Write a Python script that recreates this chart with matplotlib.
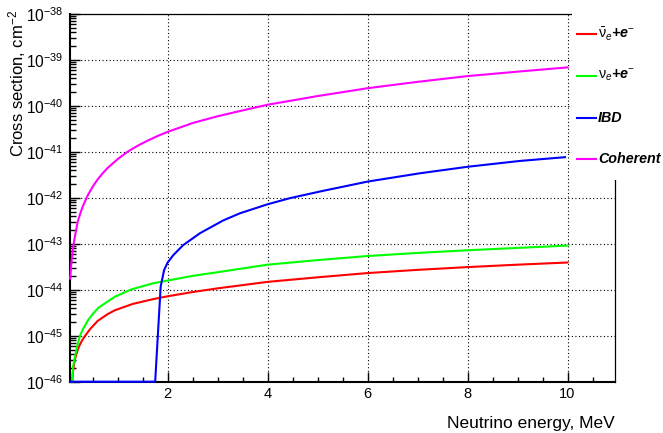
import numpy as np
import matplotlib
matplotlib.use("Agg")
import matplotlib.pyplot as plt
from matplotlib.ticker import LogLocator, MultipleLocator, FixedLocator, NullFormatter, FuncFormatter
from matplotlib.lines import Line2D
from matplotlib.patches import Rectangle

plt.rcParams['font.family'] = ['Liberation Sans', 'DejaVu Sans']
plt.rcParams['mathtext.fontset'] = 'custom'
plt.rcParams['mathtext.rm'] = 'Liberation Sans'
plt.rcParams['mathtext.it'] = 'Liberation Sans:italic'
plt.rcParams['mathtext.bf'] = 'Liberation Sans:bold'

# ---- data ----
coh_E = [0.05, 0.06, 0.07, 0.08, 0.1, 0.12, 0.15, 0.2, 0.25, 0.3, 0.4, 0.5, 0.6, 0.7, 0.8,
         1.0, 1.2, 1.4, 1.6, 1.8, 2.0, 2.5, 3.0, 3.5, 4.0, 5.0, 6.0, 7.0, 8.0, 9.0, 10.0]
coh_xs = [1.74e-44, 2.5e-44, 3.4e-44, 4.5e-44, 6.9e-44, 1.0e-43, 1.55e-43, 3.0e-43,
          4.5e-43, 6.4e-43, 1.12e-42, 1.74e-42, 2.5e-42, 3.4e-42, 4.45e-42,
          6.9e-42, 1.0e-41, 1.35e-41, 1.74e-41, 2.2e-41, 2.7e-41, 4.2e-41, 5.9e-41,
          7.9e-41, 1.05e-40, 1.62e-40, 2.4e-40, 3.3e-40, 4.4e-40, 5.5e-40, 6.8e-40]

anue_E = [0.09, 0.10, 0.11, 0.13, 0.15, 0.18, 0.22, 0.25, 0.3, 0.35, 0.45, 0.6, 0.8, 0.95,
          1.3, 1.7, 2.0, 2.5, 3.0, 4.0, 5.0, 6.0, 7.0, 8.0, 9.0, 10.0]
anue_xs = [1.0e-46, 1.4e-46, 1.8e-46, 2.5e-46, 3.2e-46, 4.2e-46, 5.6e-46, 6.6e-46, 8.3e-46,
           1.0e-45, 1.4e-45, 2.1e-45, 2.95e-45, 3.6e-45, 4.9e-45, 6.2e-45, 7.2e-45,
           8.9e-45, 1.07e-44, 1.48e-44, 1.86e-44, 2.3e-44, 2.7e-44, 3.1e-44, 3.5e-44,
           3.9e-44]

nue_E = [0.09, 0.10, 0.11, 0.13, 0.146, 0.19, 0.246, 0.3, 0.41, 0.5, 0.61, 0.75, 0.95, 1.28,
         1.71, 2.0, 2.5, 3.0, 4.0, 5.0, 6.0, 7.0, 8.0, 9.0, 10.0]
nue_xs = [1.0e-46, 1.6e-46, 2.2e-46, 2.9e-46, 3.5e-46, 6.0e-46, 1.0e-45, 1.35e-45, 2.2e-45,
          2.95e-45, 4.0e-45, 5.1e-45, 7.1e-45, 1.02e-44, 1.38e-44, 1.58e-44, 2.0e-44,
          2.4e-44, 3.5e-44, 4.4e-44, 5.4e-44, 6.3e-44, 7.2e-44, 8.1e-44, 9.1e-44]

ibd_E = [0.05, 1.75, 1.86, 1.93, 2.0, 2.11, 2.31, 2.65, 3.11, 3.45, 4.0, 4.45, 5.11, 6.0,
         7.05, 8.0, 9.05, 9.95]
ibd_xs = [1.0e-46, 1.0e-46, 1.17e-44, 2.7e-44, 3.9e-44, 5.6e-44, 9.3e-44, 1.7e-43, 3.2e-43,
          4.6e-43, 7.2e-43, 9.8e-43, 1.41e-42, 2.24e-42, 3.4e-42, 4.7e-42, 6.3e-42,
          7.6e-42]

series_labels = [r'$\bar{\mathrm{\nu}}_{e}$+e$^{-}$', r'$\mathrm{\nu}_{e}$+e$^{-}$', 'IBD', 'Coherent']
series_colors = ['#ff0000', '#00ff00', '#0000ff', '#ff00ff']
x_ticks = [2, 4, 6, 8, 10]
y_decades = list(range(-46, -37))

# ---- figure ----
W, H = 663, 433
fig = plt.figure(figsize=(W / 100, H / 100), dpi=100)
ax = fig.add_axes([70 / W, 1 - 381.7 / H, (615 - 70) / W, (381.7 - 13.7) / H])

data = [(anue_E, anue_xs), (nue_E, nue_xs), (ibd_E, ibd_xs), (coh_E, coh_xs)]
lines = []
for (e, xs), c in zip(data, series_colors):
    ln, = ax.plot(e, xs, color=c, lw=1.5, clip_on=False, zorder=3)
    lines.append(ln)

ax.set_yscale('log')
ax.set_xlim(0.046, 10.95)
ax.set_ylim(1e-46, 1e-38)

ax.xaxis.set_major_locator(FixedLocator(x_ticks))
ax.xaxis.set_minor_locator(MultipleLocator(0.5))
ax.yaxis.set_major_locator(FixedLocator([10.0 ** d for d in y_decades]))
ax.yaxis.set_minor_locator(LogLocator(base=10, subs=(2, 3, 4, 5, 6, 7, 8, 9), numticks=50))
ax.yaxis.set_minor_formatter(NullFormatter())
ax.yaxis.set_major_formatter(FuncFormatter(lambda v, p: r'$10^{%d}$' % int(round(np.log10(v)))))

ax.tick_params(axis='both', which='both', direction='in', top=False, right=False, width=1.0)
ax.tick_params(axis='x', which='major', length=7.5, pad=4, labelsize=10.5)
ax.tick_params(axis='x', which='minor', length=3.8)
ax.tick_params(axis='y', which='major', length=7.5, pad=5, labelsize=11.2)
ax.tick_params(axis='y', which='minor', length=4.5)

ax.grid(True, which='major', color='black', linestyle=(0, (1, 2.2)), linewidth=0.8)
for s in ['left', 'bottom']:
    ax.spines[s].set_linewidth(1.5)
for s in ['top', 'right']:
    ax.spines[s].set_linewidth(0.9)

fig.text(17 / W, 1 - 10 / H, r'Cross section, cm$^{-2}$', rotation=90, ha='center', va='top',
         fontsize=12)
fig.text(615 / W, 5 / H, 'Neutrino energy, MeV', ha='right', va='baseline', fontsize=12.5)

# legend area (white box covering the top-right corner, ROOT style)
fig.add_artist(Rectangle((572 / W, 1 - 180 / H), 1, 1, transform=fig.transFigure,
                         facecolor='white', edgecolor='none', zorder=5))
entry_y = [34.3, 75.7, 117.7, 159.3]
for ln, lab, yy in zip(lines, series_labels, entry_y):
    fig.add_artist(Line2D([577 / W, 596 / W], [1 - yy / H, 1 - yy / H], transform=fig.transFigure,
                          color=ln.get_color(), lw=1.5, zorder=6))
    fig.text(598 / W, 1 - yy / H, lab, ha='left', va='center', fontsize=10.3,
             fontweight='bold', style='italic', zorder=6)

fig.savefig('out.png', dpi=100)
